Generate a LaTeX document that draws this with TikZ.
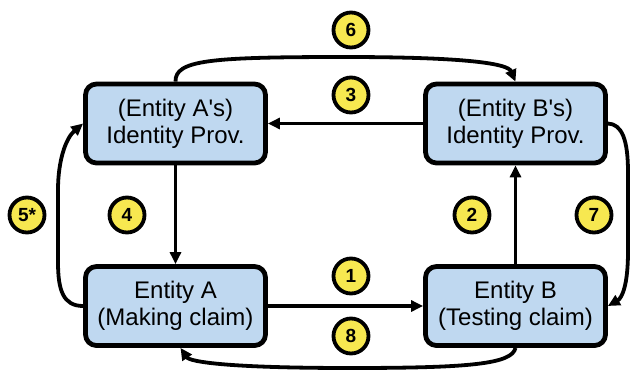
\documentclass[tikz,border=0pt]{standalone}
\usepackage{fontspec}
\setmainfont{Liberation Sans}[Ligatures=TeXOff]
\usetikzlibrary{arrows.meta}
\definecolor{boxblue}{RGB}{191,216,240}
\definecolor{badgeyellow}{RGB}{247,232,80}
\begin{document}
\begin{tikzpicture}[x=1pt,y=-1pt,
  entity/.style={draw=black, line width=4.8pt, fill=boxblue, rounded corners=11pt,
    minimum width=180pt, minimum height=79pt, align=center, inner sep=0pt,
    font=\fontsize{24}{27}\selectfont},
  badge/.style={circle, draw=black, line width=3.8pt, fill=badgeyellow,
    minimum size=35pt, inner sep=0pt, font=\fontsize{19}{19}\selectfont\bfseries},
  flow/.style={line width=3.8pt, -{Triangle[length=12pt,width=11pt]}}]

\fill[white] (0,0) rectangle (633,376);
\useasboundingbox (0,0) rectangle (633,376);

% the four parties
\node[entity] (ai) at (175.5,123.5) {(Entity A's)\\Identity Prov.};
\node[entity] (bi) at (515.5,123.5) {(Entity B's)\\Identity Prov.};
\node[entity] (ea) at (175.5,306) {Entity A\\(Making claim)};
\node[entity] (eb) at (515.5,306) {Entity B\\(Testing claim)};

% message flows
\draw[flow] (ea.east) -- (eb.west);
\draw[flow] (eb.north) -- (bi.south);
\draw[flow] (bi.west) -- (ai.east);
\draw[flow] (ai.south) -- (ea.north);
\draw[flow] (ea.west) .. controls (63,306) and (58,290) .. (58,262)
  -- (58,190) .. controls (58,160) and (66,138) .. (ai.west);
\draw[flow] (ai.north) .. controls (175,60) and (210,57) .. (345,57)
  .. controls (470,57) and (508,64) .. (bi.north);
\draw[flow] (bi.east) .. controls (622,124) and (628,140) .. (628,172)
  -- (628,252) .. controls (628,285) and (622,298) .. (eb.east);
\coordinate (eain) at ([xshift=5pt]ea.south);
\draw[flow] (eb.south) .. controls (512,364) and (470,368) .. (350,368)
  .. controls (230,368) and (190,362) .. (eain);

% step numbers
\node[badge] (n1) at (351,276) {1};
\node[badge] (n2) at (472,215) {2};
\node[badge] (n3) at (351,95) {3};
\node[badge] (n4) at (127,215) {4};
\node[badge] (n5) at (27,215) {5*};
\node[badge] (n6) at (351,30) {6};
\node[badge] (n7) at (594,215) {7};
\node[badge] (n8) at (351,336) {8};
\end{tikzpicture}
\end{document}
